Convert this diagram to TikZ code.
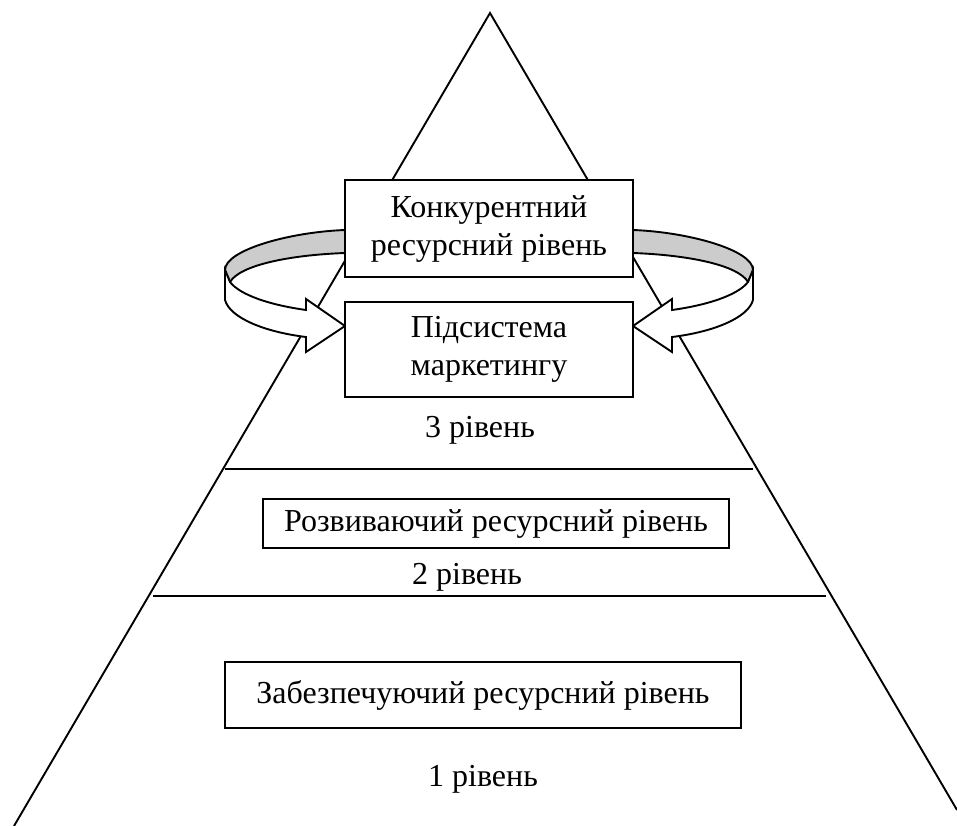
\documentclass[tikz,border=0pt]{standalone}
\usepackage{fontspec}
\setmainfont{Liberation Serif}
\newcommand\ribbonarrow{%
  % back half of the ribbon (inner side, shaded)
  \draw[fill=bandgray] (345,230) .. controls (290,232) and (225,250) .. (225,270)
    -- (230,282) .. controls (240,265) and (290,255) .. (345,253) -- cycle;
  % front half of the ribbon with the arrow head
  \draw[fill=white] (225,270) -- (225,300) .. controls (230,318) and (265,332) .. (306,337)
    -- (306,352) -- (345,326) -- (306,299) -- (306,310)
    .. controls (270,305) and (240,295) .. (230,282) -- cycle;
}
\begin{document}
\begin{tikzpicture}[x=1pt, y=-1pt, line width=1.9pt,
  txt/.style={font=\fontsize{32}{38}\selectfont, inner sep=0pt, align=center},
  box/.style={txt, draw, fill=white}]
\definecolor{bandgray}{RGB}{204,204,204}
\useasboundingbox (0,0) rectangle (957,826);

% pyramid outline
\coordinate (apex) at (490,13);
\coordinate (bl) at (14,826);
\coordinate (br) at (957,810);
\draw (bl) -- (apex) -- (br);

% level separators
\coordinate (s1l) at (225,469);
\coordinate (s1r) at (753,469);
\coordinate (s2l) at (153,596);
\coordinate (s2r) at (826,596);
\draw (s1l) -- (s1r);
\draw (s2l) -- (s2r);

% curved arrows around the top level
\ribbonarrow
\begin{scope}[shift={(978,0)}, xscale=-1]
  \ribbonarrow
\end{scope}

% boxes
\node[box, minimum width=288pt, minimum height=97pt] (konk) at (489,228.5)
  {Конкурентний\\ресурсний рівень};
\node[box, minimum width=288pt, minimum height=95pt] (mark) at (489,349.5)
  {Підсистема\\маркетингу};
\node[box, minimum width=466pt, minimum height=49pt] (rozv) at (496,523.5)
  {Розвиваючий ресурсний рівень};
\node[box, minimum width=516pt, minimum height=66pt] (zabez) at (483,695)
  {Забезпечуючий ресурсний рівень};

% level labels
\node[txt] (l3) at (480,430) {3 рівень};
\node[txt] (l2) at (467,577) {2 рівень};
\node[txt] (l1) at (483,779) {1 рівень};
\end{tikzpicture}
\end{document}
